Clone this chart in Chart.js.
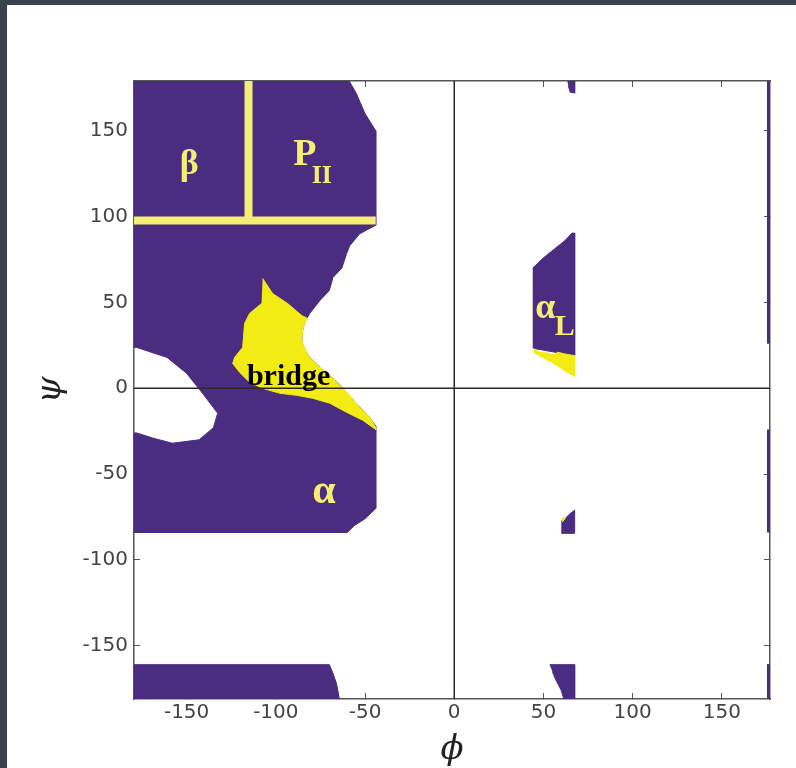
<!DOCTYPE html>
<html>
<head>
<meta charset="utf-8">
<script src="https://cdn.jsdelivr.net/npm/chart.js@4.4.1/dist/chart.umd.min.js"></script>
<style>
  html, body { margin: 0; padding: 0; width: 796px; height: 768px; overflow: hidden; background: #3c414e; }
  #panel { position: absolute; left: 7px; top: 5px; width: 789px; height: 763px; background: #fff; }
</style>
</head>
<body>
<div id="panel"><canvas id="rama" width="789" height="763"></canvas></div>
<script>
// tick labels
const phiTicks = [-150, -100, -50, 0, 50, 100, 150];
const psiTicks = [-150, -100, -50, 0, 50, 100, 150];

// region outlines as [phi, psi] points
const mainPurple = [[-181, 181], [-60, 181], [-55, 172], [-50, 160], [-44, 150], [-44, 95], [-53, 90], [-58.6, 83], [-60.3, 78.5],
  [-63, 70], [-68, 64.5], [-70, 57], [-75.4, 51], [-81, 43.6], [-83, 40], [-84, 38], [-85, 33.7], [-85.5, 28], [-84, 23],
  [-81, 18], [-76.6, 13.4], [-70, 7.6], [-64, 1.7], [-60, -3], [-53, -11], [-47.4, -17], [-44, -22], [-44, -70],
  [-50, -76], [-56, -80], [-60, -84], [-181, -84], [-181, -26], [-178, -26], [-169, -29], [-158, -32], [-143, -30],
  [-135, -23], [-132.6, -14.5], [-141, -3], [-150, 8.7], [-161, 18], [-178, 23.8], [-181, 24]];
const lowerLeftPurple = [[-181, -161], [-70, -161], [-68, -166], [-66, -172], [-64, -183], [-181, -183]];
const alphaLPurple = [[44, 70], [50, 76], [56, 81], [62, 86], [66, 90.4], [67.5, 90.4], [67.5, 19], [44, 23.3]];
const spotPurple = [[60, -84.5], [67.5, -84.5], [67.5, -71], [65, -73], [63, -75], [60, -77.5]];
const bottomSpotPurple = [[53.5, -161], [67.5, -161], [67.5, -183], [62, -183], [60, -176], [57, -170], [55, -165]];
const topSpotPurple = [[63, 181], [67.5, 181], [67.5, 172], [65, 172.5], [64, 176]];
const edgeStripTop = [[175.3, 181], [178, 181], [178, 26.3], [175.3, 26.3]];
const edgeStripMid = [[175.3, -24.3], [178, -24.3], [178, -83.7], [175.3, -83.7]];
const edgeStripLow = [[175.3, -161], [178, -161], [178, -183], [175.3, -183]];

const bridgeYellow = [[-107.4, 64], [-101.8, 55.2], [-93.4, 49.4], [-85.5, 42.4], [-82.2, 40.7], [-83.8, 38.4], [-85, 33.7],
  [-85.5, 27.9], [-83.8, 23.3], [-81, 18], [-76.6, 13.4], [-69.8, 7.6], [-64.2, 1.7], [-59.7, -2.9], [-53, -11],
  [-47.4, -16.9], [-44, -22.7], [-44, -24], [-51.3, -18.6], [-60.3, -14], [-69.8, -8.7], [-79.4, -5.8], [-88.3, -4.1],
  [-97.8, -2.9], [-107.4, 0], [-114.7, 3.5], [-120.3, 9.3], [-124.2, 14.5], [-123.1, 18], [-118.6, 23.8], [-117.5, 37.8],
  [-114.7, 43.6], [-108, 49.4]];
const alphaLYellow = [[44, 23.3], [48, 21], [52, 20.5], [56, 19.5], [58, 21], [62, 20], [67.5, 19], [67.5, 7], [63, 9.5],
  [55, 15], [45, 20.5]];
const spotYellow = [[60.5, -78], [62.5, -75.5], [60.5, -75.5]];

// beta / PII separators and the zero lines
const sepHorizontal = [[-181, 97.7], [-44, 97.7]];
const sepVertical = [[-115.3, 181], [-115.3, 97.7]];
const phiZero = [[0, -183], [0, 181]];
const psiZero = [[-181, 0], [178, 0]];

// region names, anchored in [phi, psi]
const regionLabels = [
  { text: 'β', phi: -148.5, psi: 130, kind: 'greek' },
  { text: 'P', phi: -83.7, psi: 136, kind: 'big' },
  { text: 'II', phi: -74.2, psi: 123.6, kind: 'sub' },
  { text: 'α', phi: -73, psi: -60.5, kind: 'alpha' },
  { text: 'α', phi: 51, psi: 46.5, kind: 'alphaL' },
  { text: 'L', phi: 62, psi: 35.7, kind: 'subL' },
  { text: 'bridge', phi: -116.2, psi: 1.9, kind: 'bridge' }
];

const purple = '#4a2c80';
const yellow = '#f3ec14';
const pale = '#f6ee74';

const pts = arr => arr.map(([x, y]) => ({ x: x, y: y }));

function region(points, color, order) {
  return { data: pts(points), showLine: true, fill: 'shape', backgroundColor: color, borderColor: color,
    borderWidth: 1, pointRadius: 0, order: order };
}
function line(points, color, width, order) {
  return { data: pts(points), showLine: true, fill: false, borderColor: color, borderWidth: width,
    pointRadius: 0, order: order };
}

const datasets = [
  line(sepHorizontal, pale, 8, 0),
  line(sepVertical, pale, 8, 0),
  line(phiZero, '#2a2a2a', 1.5, 1),
  line(psiZero, '#2a2a2a', 1.5, 1)
];
[bridgeYellow, alphaLYellow, spotYellow].forEach(r => datasets.push(region(r, yellow, 2)));
[mainPurple, lowerLeftPurple, alphaLPurple, spotPurple, bottomSpotPurple, topSpotPurple,
  edgeStripTop, edgeStripMid, edgeStripLow].forEach(r => datasets.push(region(r, purple, 3)));

const labelFonts = {
  greek: 'bold 36px "Liberation Serif"',
  alpha: 'bold 42px "Liberation Serif"',
  alphaL: 'bold 36px "Liberation Serif"',
  big: 'bold 38px "Liberation Serif"',
  sub: 'bold 26px "Liberation Serif"',
  subL: 'bold 30px "Liberation Serif"',
  bridge: 'bold 30px "Liberation Serif"'
};

const regionText = {
  id: 'regionText',
  afterDraw(chart) {
    const { ctx, scales } = chart;
    ctx.save();
    regionLabels.forEach(l => {
      const x = scales.x.getPixelForValue(l.phi);
      const y = scales.y.getPixelForValue(l.psi);
      ctx.font = labelFonts[l.kind];
      if (l.kind === 'bridge') {
        ctx.fillStyle = '#000';
        ctx.textAlign = 'left';
        ctx.textBaseline = 'alphabetic';
      } else {
        ctx.fillStyle = pale;
        ctx.textAlign = 'center';
        ctx.textBaseline = 'middle';
      }
      ctx.fillText(l.text, x, y);
    });
    ctx.restore();
  }
};

const tickFont = { family: '"DejaVu Sans"', size: 20 };
const frame = { display: true, color: '#555', width: 1.5 };
const inwardTicks = { display: true, drawOnChartArea: false, drawTicks: true, tickLength: -6, color: '#555', lineWidth: 1 };
const titleFont = { family: '"DejaVu Serif"', style: 'italic', size: 34, lineHeight: 1 };

function fixTicks(values) {
  return scale => { scale.ticks = values.map(v => ({ value: v })); };
}

new Chart(document.getElementById('rama'), {
  type: 'scatter',
  data: { datasets: datasets },
  options: {
    responsive: false,
    animation: false,
    layout: { padding: { top: 76, right: 26, left: 0, bottom: 0 } },
    plugins: { legend: { display: false }, tooltip: { enabled: false } },
    scales: {
      x: {
        type: 'linear', position: 'bottom', min: -179.5, max: 177, z: 1,
        afterBuildTicks: fixTicks(phiTicks),
        afterFit: s => { s.height = 69; },
        border: frame, grid: inwardTicks,
        ticks: { font: tickFont, color: '#444', padding: 8, maxRotation: 0 },
        title: { display: true, text: 'ϕ', color: '#222', font: titleFont, padding: { top: 0, bottom: 1 } }
      },
      x2: {
        type: 'linear', position: 'top', min: -179.5, max: 177, z: 1,
        afterBuildTicks: fixTicks(phiTicks),
        afterFit: s => { s.height = 0; },
        border: frame, grid: inwardTicks,
        ticks: { display: false }
      },
      y: {
        type: 'linear', position: 'left', min: -181, max: 179, z: 1,
        afterBuildTicks: fixTicks(psiTicks),
        afterFit: s => { s.width = 127; },
        border: frame, grid: inwardTicks,
        ticks: { font: tickFont, color: '#444', padding: 12 },
        title: { display: true, text: 'ψ', color: '#222', font: titleFont, padding: { top: 27, bottom: 0 } }
      },
      y2: {
        type: 'linear', position: 'right', min: -181, max: 179, z: 1,
        afterBuildTicks: fixTicks(psiTicks),
        afterFit: s => { s.width = 0; },
        border: frame, grid: inwardTicks,
        ticks: { display: false }
      }
    }
  },
  plugins: [regionText]
});
</script>
</body>
</html>
